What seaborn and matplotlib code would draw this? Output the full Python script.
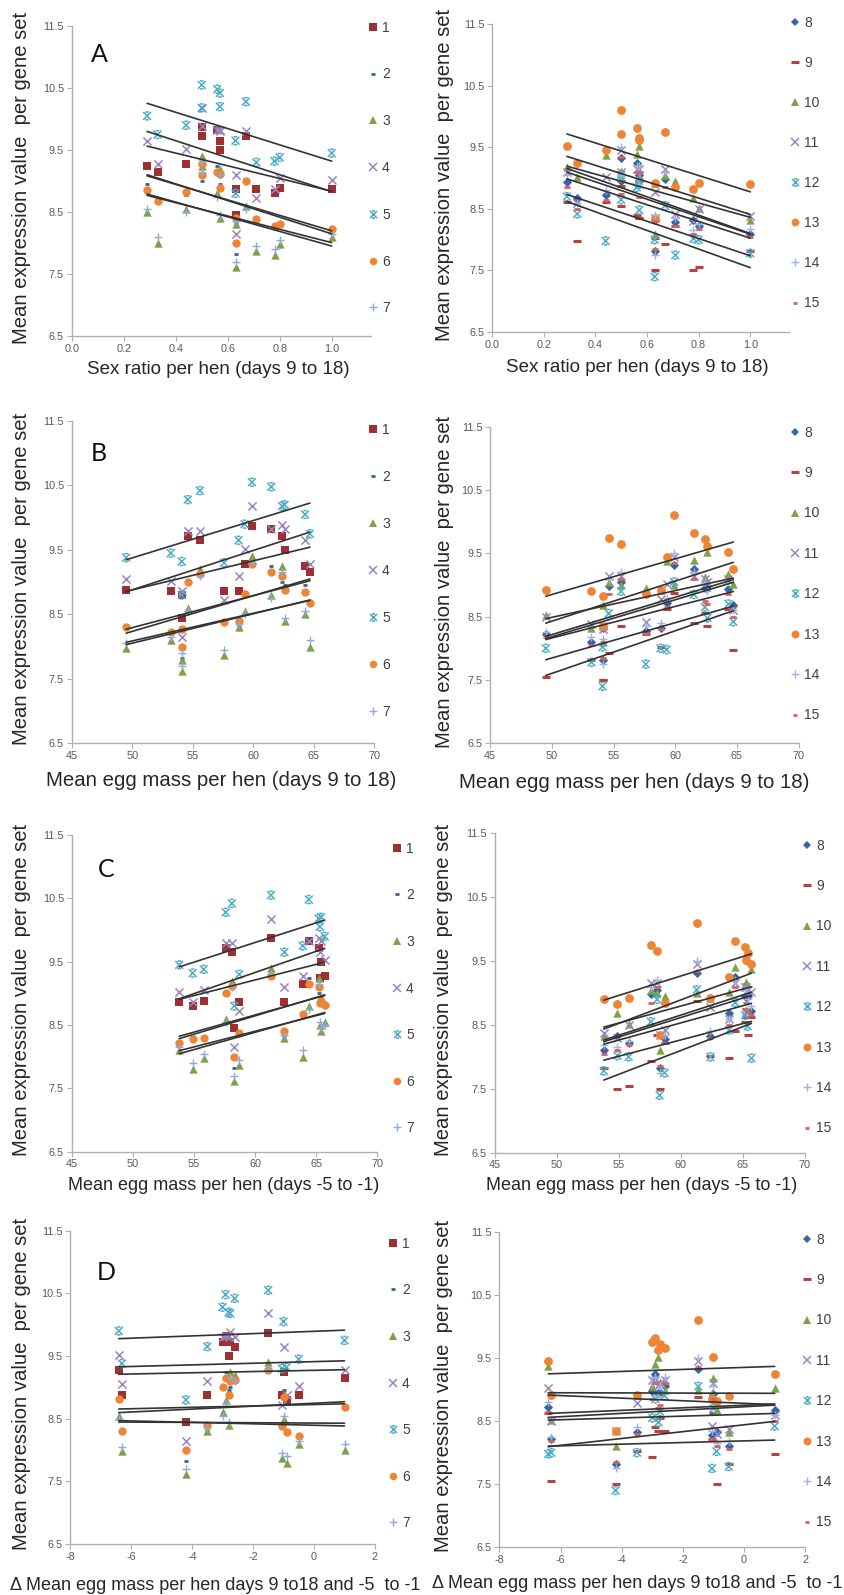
import numpy as np
import pandas as pd
import matplotlib
matplotlib.use("Agg")
import matplotlib.pyplot as plt
import seaborn as sns
from matplotlib.path import Path
from matplotlib.lines import Line2D

sns.set_style("ticks")
plt.rcParams['font.family'] = ['Liberation Sans', 'DejaVu Sans']

# ---------------- data (15 hens) ----------------
hens = [f"H{i}" for i in range(1, 16)]
sex_ratio      = [0.80, 1.00, 0.71, 0.63, 0.78, 0.63, 0.29, 0.44, 0.33, 0.50, 0.56, 0.67, 0.50, 0.57, 0.57]
egg_mass_9_18  = [49.5, 53.2, 57.6, 58.8, 54.1, 54.1, 64.3, 59.3, 64.7, 59.9, 61.5, 54.6, 62.4, 55.6, 62.6]
egg_mass_m5_m1 = [55.8, 53.8, 58.7, 62.4, 54.9, 58.3, 65.3, 65.7, 63.9, 61.3, 64.4, 57.6, 65.2, 58.1, 65.4]
delta_egg_mass = [-6.3, -0.5, -1.05, -3.5, -0.9, -4.2, -1.0, -6.4, 1.0, -1.5, -2.9, -3.0, -2.75, -2.6, -2.8]

# mean expression value per gene set, per hen
gs1  = [8.88, 8.87, 8.87, 8.87, 8.80, 8.45, 9.25, 9.28, 9.15, 9.87, 9.82, 9.72, 9.72, 9.65, 9.50]
gs2  = [8.28, 8.20, 8.35, 8.32, 8.30, 7.82, 8.95, 8.78, 8.70, 9.25, 9.25, 9.00, 9.00, 9.15, 8.95]
gs3  = [7.98, 8.10, 7.87, 8.30, 7.80, 7.62, 8.50, 8.55, 8.00, 9.40, 8.80, 8.60, 9.25, 9.20, 8.40]
gs4  = [9.05, 9.02, 8.72, 9.10, 8.87, 8.15, 9.65, 9.52, 9.28, 10.18, 9.82, 9.80, 9.88, 9.80, 9.82]
gs5  = [9.38, 9.45, 9.30, 9.65, 9.32, 8.80, 10.05, 9.90, 9.75, 10.55, 10.48, 10.28, 10.18, 10.42, 10.20]
gs6  = [8.30, 8.22, 8.38, 8.40, 8.28, 8.00, 8.85, 8.82, 8.68, 9.28, 9.15, 9.00, 9.10, 9.12, 8.88]
gs7  = [8.05, 8.15, 7.95, 8.35, 7.90, 7.70, 8.55, 8.50, 8.10, 9.30, 8.75, 8.55, 9.15, 9.10, 8.45]
gs8  = [8.22, 8.10, 8.28, 8.32, 8.32, 7.82, 8.93, 8.72, 8.68, 9.32, 9.25, 8.98, 8.95, 9.05, 8.95]
gs9  = [7.55, 7.82, 8.22, 8.02, 7.50, 7.50, 8.62, 8.62, 7.98, 8.88, 8.40, 7.93, 8.55, 8.35, 8.35]
gs10 = [8.52, 8.32, 8.95, 8.92, 8.68, 8.10, 9.18, 9.38, 9.02, 9.00, 9.40, 9.05, 9.12, 9.00, 9.52]
gs11 = [8.50, 8.38, 8.42, 8.78, 8.30, 8.35, 9.10, 9.02, 8.60, 9.45, 9.15, 9.15, 9.10, 9.15, 9.05]
gs12 = [8.00, 7.78, 7.75, 8.00, 8.02, 7.40, 8.70, 7.98, 8.42, 9.05, 8.85, 8.55, 8.65, 8.90, 8.48]
gs13 = [8.92, 8.90, 8.85, 8.92, 8.82, 8.35, 9.52, 9.45, 9.25, 10.10, 9.82, 9.75, 9.72, 9.65, 9.62]
gs14 = [8.25, 8.18, 8.35, 8.40, 8.15, 7.75, 9.05, 8.80, 8.60, 9.50, 9.20, 9.10, 9.05, 9.20, 8.90]
gs15 = [8.18, 8.05, 8.22, 8.30, 8.10, 7.85, 8.85, 8.65, 8.50, 9.35, 9.10, 8.85, 8.75, 9.10, 8.70]

left_series = ["1", "2", "3", "4", "5", "6", "7"]
right_series = ["8", "9", "10", "11", "12", "13", "14", "15"]
values = {"1": gs1, "2": gs2, "3": gs3, "4": gs4, "5": gs5, "6": gs6, "7": gs7,
          "8": gs8, "9": gs9, "10": gs10, "11": gs11, "12": gs12, "13": gs13,
          "14": gs14, "15": gs15}

x_vars = [sex_ratio, egg_mass_9_18, egg_mass_m5_m1, delta_egg_mass]
x_labels = ["Sex ratio per hen (days 9 to 18)",
            "Mean egg mass per hen (days 9 to 18)",
            "Mean egg mass per hen (days -5 to -1)",
            "\u0394 Mean egg mass per hen days 9 to18 and -5  to -1"]
x_label_size = [13.5, 14.7, 13.0, 13.0]
x_limits = [(0, 1.15), (45, 70), (45, 70), (-8, 2)]
x_ticks = [[0.0, 0.2, 0.4, 0.6, 0.8, 1.0], [45, 50, 55, 60, 65, 70],
           [45, 50, 55, 60, 65, 70], [-8, -6, -4, -2, 0, 2]]
x_tick_fmt = ["{:.1f}", "{:.0f}", "{:.0f}", "{:.0f}"]
letters = ["A", "B", "C", "D"]
y_ticks = [6.5, 7.5, 8.5, 9.5, 10.5, 11.5]

# ---------------- styles ----------------
hour = Path([(-1, -1), (1, 1), (-1, 1), (1, -1), (-0.45, 1), (0.45, 1), (-0.45, -1), (0.45, -1)],
            [Path.MOVETO, Path.LINETO, Path.MOVETO, Path.LINETO,
             Path.MOVETO, Path.LINETO, Path.MOVETO, Path.LINETO])

style = {
    "1":  dict(marker="s", color="#9e2f32", s=32, lw=0.0, filled=True),
    "2":  dict(marker="_", color="#3462a0", s=12, lw=2.0, filled=False),
    "3":  dict(marker="^", color="#7fa04a", s=36, lw=0.0, filled=True),
    "4":  dict(marker="x", color="#9a84c2", s=34, lw=1.1, filled=False),
    "5":  dict(marker=hour, color="#4bacc6", s=32, lw=1.1, filled=False),
    "6":  dict(marker="o", color="#ee8434", s=36, lw=0.0, filled=True),
    "7":  dict(marker="+", color="#8eaadb", s=34, lw=1.0, filled=False),
    "8":  dict(marker="D", color="#3465a8", s=22, lw=0.0, filled=True),
    "9":  dict(marker="_", color="#b8403e", s=34, lw=2.2, filled=False),
    "10": dict(marker="^", color="#7ea346", s=36, lw=0.0, filled=True),
    "11": dict(marker="x", color="#9a84c2", s=34, lw=1.1, filled=False),
    "12": dict(marker=hour, color="#4bacc6", s=32, lw=1.1, filled=False),
    "13": dict(marker="o", color="#ee8434", s=40, lw=0.0, filled=True),
    "14": dict(marker="+", color="#9db4e0", s=36, lw=1.0, filled=False),
    "15": dict(marker="_", color="#d9605e", s=14, lw=2.0, filled=False),
}

W, H = 844, 1595
fig = plt.figure(figsize=(W / 100, H / 100), dpi=100)
fig.patch.set_facecolor("white")

# axes boxes in pixels: x0, x1, ytop, ybottom
boxes = {
    (0, 0): (71.7, 370.7, 26, 336), (0, 1): (492, 789, 24.3, 332),
    (1, 0): (71.7, 374, 421, 743.3), (1, 1): (490.3, 798.7, 426.7, 743.3),
    (2, 0): (71.7, 377.3, 835, 1151.7), (2, 1): (494.7, 804.7, 833.3, 1152.7),
    (3, 0): (70, 375, 1230.7, 1544), (3, 1): (499.3, 805.3, 1231.7, 1547.3),
}
# legend: marker x, first entry y, last entry y
legend_pos = {
    (0, 0): (373, 28, 308), (1, 0): (373, 430, 712), (2, 0): (397, 849, 1128), (3, 0): (393, 1244, 1523),
    (0, 1): (795, 23, 303), (1, 1): (795, 433, 715), (2, 1): (807, 846, 1128), (3, 1): (807, 1240, 1522),
}
xlabel_pos = {
    (0, 0): (218, 370), (0, 1): (637, 368),
    (1, 0): (221, 780), (1, 1): (634, 782),
    (2, 0): (224, 1185), (2, 1): (642, 1185),
    (3, 0): (215, 1585), (3, 1): (637, 1584),
}
letter_pos = [(99, 55), (99, 453), (106, 870), (106, 1273)]

for (r, c), (x0, x1, yt, yb) in boxes.items():
    ax = fig.add_axes([x0 / W, 1 - yb / H, (x1 - x0) / W, (yb - yt) / H])
    names = left_series if c == 0 else right_series
    df = pd.DataFrame({"hen": np.tile(hens, len(names)),
                       "x": np.tile(x_vars[r], len(names)),
                       "series": np.repeat(names, len(hens)),
                       "value": np.concatenate([values[n] for n in names])})
    for n in names:
        st = style[n]
        sub = df[df["series"] == n]
        kw = dict(marker=st["marker"], s=st["s"], color=st["color"], linewidth=st["lw"],
                  edgecolor=st["color"], legend=False, zorder=3)
        if isinstance(st["marker"], Path):
            kw["facecolor"] = "none"
        sns.scatterplot(data=sub, x="x", y="value", ax=ax, **kw)
    for n in names:
        sub = df[df["series"] == n]
        sns.regplot(data=sub, x="x", y="value", ax=ax, scatter=False, ci=None,
                    truncate=True, color="#333333", line_kws=dict(lw=1.2, zorder=4))

    ax.set_xlim(*x_limits[r])
    ax.set_ylim(6.5, 11.5)
    ax.set_yticks(y_ticks)
    ax.set_yticklabels([f"{v:.1f}" for v in y_ticks])
    ax.set_xticks(x_ticks[r])
    ax.set_xticklabels([x_tick_fmt[r].format(v) for v in x_ticks[r]])
    for side in ["top", "right"]:
        ax.spines[side].set_visible(False)
    for side in ["left", "bottom"]:
        ax.spines[side].set_color("#b0b0b0")
        ax.spines[side].set_linewidth(1.0)
    ax.tick_params(axis="both", direction="out", length=3.5, width=0.8, color="#b0b0b0",
                   labelsize=7.8, labelcolor="#595959", pad=2)

    ax.set_ylabel("Mean expression value  per gene set", fontsize=14.6, color="#262626")
    ax.yaxis.label.set_va("center")
    lx = (22 if c == 0 else 444)
    ax.yaxis.set_label_coords((lx - x0) / (x1 - x0), 0.51)

    ax.set_xlabel(x_labels[r], fontsize=x_label_size[r], color="#262626")
    ax.xaxis.label.set_va("center")
    cx, cy = xlabel_pos[(r, c)]
    ax.xaxis.set_label_coords((cx - x0) / (x1 - x0), (yb - cy) / (yb - yt))

    # legend
    handles = []
    for n in names:
        st = style[n]
        handles.append(Line2D([], [], linestyle="none", marker=st["marker"],
                              markersize=np.sqrt(st["s"]) * 0.9, color=st["color"],
                              markeredgecolor=st["color"],
                              markerfacecolor="none" if isinstance(st["marker"], Path) else st["color"],
                              markeredgewidth=st["lw"] if not st["filled"] else 0.0))
    mx, ya, yz = legend_pos[(r, c)]
    pitch = (yz - ya) / (len(names) - 1)
    fs = 10
    fs_px = fs * 100 / 72
    lsp = (pitch - fs_px * 1.0) / fs_px
    hl = 0.8
    leg = ax.legend(handles, names, loc="center left",
                    bbox_to_anchor=((mx - hl * fs_px / 2) / W, 1 - (ya + yz) / 2 / H),
                    bbox_transform=fig.transFigure, frameon=False, fontsize=fs,
                    handlelength=hl, handletextpad=0.25, labelspacing=lsp,
                    borderpad=0, borderaxespad=0)
    for t in leg.get_texts():
        t.set_color("#404040")

    if c == 0:
        lxp, lyp = letter_pos[r]
        fig.text(lxp / W, 1 - lyp / H, letters[r], fontsize=18, family="Lato",
                 ha="center", va="center", color="#111111")

fig.savefig("out.png", dpi=100, facecolor="white")
